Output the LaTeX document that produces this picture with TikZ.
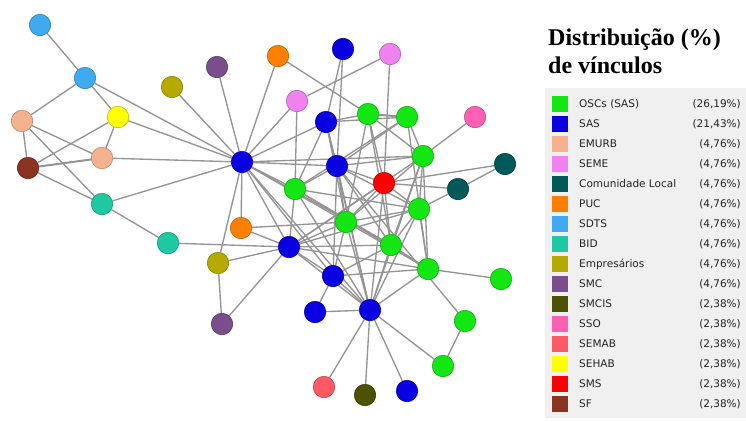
\documentclass[tikz,border=0pt]{standalone}
\usepackage{fontspec}
\setmainfont{Liberation Serif}
\newfontfamily\legfont{DejaVu Sans}
\usetikzlibrary{backgrounds}
\definecolor{cOSC}{RGB}{20,230,20}
\definecolor{cSAS}{RGB}{10,0,225}
\definecolor{cEMURB}{RGB}{245,178,142}
\definecolor{cSEME}{RGB}{240,130,240}
\definecolor{cCOM}{RGB}{0,88,88}
\definecolor{cPUC}{RGB}{255,128,0}
\definecolor{cSDTS}{RGB}{64,170,240}
\definecolor{cBID}{RGB}{30,200,160}
\definecolor{cEMP}{RGB}{182,170,0}
\definecolor{cSMC}{RGB}{122,78,140}
\definecolor{cSMCIS}{RGB}{76,82,0}
\definecolor{cSSO}{RGB}{255,96,180}
\definecolor{cSEMAB}{RGB}{255,90,100}
\definecolor{cSEHAB}{RGB}{255,255,0}
\definecolor{cSMS}{RGB}{255,0,0}
\definecolor{cSF}{RGB}{140,52,36}
\definecolor{legbg}{RGB}{240,240,240}
\definecolor{legtxt}{RGB}{35,35,35}
\tikzset{
  vtx/.style={circle,minimum size=21.5pt,inner sep=0pt,fill=#1,draw=#1!75!black,line width=0.6pt},
  edge/.style={draw=black!42,line width=1.35pt},
  legsq/.style={rectangle,minimum size=16pt,inner sep=0pt,fill=#1},
  leglab/.style={anchor=west,font=\legfont\fontsize{10.5}{12}\selectfont,text=legtxt,inner sep=0pt},
  legpct/.style={anchor=east,font=\legfont\fontsize{10.5}{12}\selectfont,text=legtxt,inner sep=0pt},
  ttl/.style={anchor=base west,font=\fontsize{24}{28}\selectfont\bfseries,inner sep=0pt}
}
\begin{document}
\begin{tikzpicture}[x=1pt,y=-1pt]
\useasboundingbox (0,0) rectangle (746,421);
% ---- nodes ----
\node[vtx=cSDTS] (sd1) at (40,25) {};
\node[vtx=cSDTS] (sd2) at (85,78) {};
\node[vtx=cEMURB] (em1) at (22,121) {};
\node[vtx=cEMURB] (em2) at (102,158) {};
\node[vtx=cSEHAB] (seh) at (118,117) {};
\node[vtx=cSF] (sf) at (28,168) {};
\node[vtx=cBID] (bid1) at (102,204) {};
\node[vtx=cBID] (bid2) at (168,243) {};
\node[vtx=cEMP] (emp1) at (172,87) {};
\node[vtx=cEMP] (emp2) at (218,263) {};
\node[vtx=cSMC] (smc1) at (217,67) {};
\node[vtx=cSMC] (smc2) at (222,324) {};
\node[vtx=cSAS] (A) at (242,162) {};
\node[vtx=cPUC] (puc1) at (278,56) {};
\node[vtx=cPUC] (puc2) at (241,228) {};
\node[vtx=cSAS] (sasT) at (343,49) {};
\node[vtx=cSEME] (seme1) at (390,54) {};
\node[vtx=cSEME] (seme2) at (297,101) {};
\node[vtx=cSAS] (B) at (326,122) {};
\node[vtx=cOSC] (g1) at (368,114) {};
\node[vtx=cOSC] (g2) at (407,117) {};
\node[vtx=cSSO] (sso) at (475,117) {};
\node[vtx=cSAS] (C) at (337,166) {};
\node[vtx=cOSC] (g3) at (423,156) {};
\node[vtx=cCOM] (cl1) at (505,164) {};
\node[vtx=cSMS] (sms) at (384,183) {};
\node[vtx=cCOM] (cl2) at (458,189) {};
\node[vtx=cOSC] (g4) at (295,189) {};
\node[vtx=cOSC] (g6) at (419,209) {};
\node[vtx=cOSC] (g5) at (346,222) {};
\node[vtx=cSAS] (D) at (289,247) {};
\node[vtx=cOSC] (g7) at (391,245) {};
\node[vtx=cOSC] (g8) at (428,269) {};
\node[vtx=cSAS] (E) at (333,276) {};
\node[vtx=cOSC] (g9) at (501,279) {};
\node[vtx=cSAS] (F) at (315,312) {};
\node[vtx=cSAS] (H) at (370,310) {};
\node[vtx=cOSC] (g10) at (465,321) {};
\node[vtx=cOSC] (g11) at (443,366) {};
\node[vtx=cSEMAB] (semab) at (324,387) {};
\node[vtx=cSMCIS] (smcis) at (365,395) {};
\node[vtx=cSAS] (sasB) at (407,391) {};
% ---- edges ----
\begin{pgfonlayer}{background}
\foreach \a/\b in {sd1/sd2, sd2/em1, sd2/seh, sd2/A, em1/sf, em1/em2, em1/bid1, seh/sf, seh/em2, seh/A,
  sf/bid1, em2/A, bid1/A, bid1/bid2, bid2/D, emp1/A, smc1/A, puc1/A, seme2/A, A/B, A/C, A/g3, A/g4, A/g5,
  A/D, A/E, A/H, A/g7, A/puc2, A/emp2, puc2/g5, puc2/D, emp2/D, emp2/smc2, smc2/D,
  puc1/g1, sasT/B, sasT/C, seme1/seme2, seme1/sms, seme2/g4, sso/g3, cl1/cl2, cl1/sms, cl2/sms, cl2/g6,
  B/g1, B/g2, B/C, B/g5, B/g4, B/H,
  g1/g3, g1/g7, g1/sms, g1/g5, g2/g3, g2/g4, g2/C, g2/g8,
  C/g3, C/g4, C/g5, C/sms, C/E, C/H, C/g7, C/g10, C/g6,
  g3/g6, g3/g8, g3/g5, g3/g7, g3/H, g3/D,
  g4/g7, g4/D, g4/g8, g4/H, g4/g6,
  sms/g5, sms/g7, sms/H, sms/D, sms/g6,
  g5/D, g5/g6, g5/H, g5/E, g5/g8,
  g6/g7, g6/H, g6/g8, g6/D,
  D/g7, D/g8, D/E, D/H, g7/H, g7/E, g7/g8, g8/H, g8/E, g8/g9,
  E/F, E/H, F/H, H/semab, H/smcis, H/sasB, H/g11, g10/g11}
  {\draw[edge] (\a) -- (\b);}
\draw[edge,line width=2pt] (sf) -- (em2);
\draw[edge,line width=2pt] (g1) -- (g2);
\end{pgfonlayer}
% ---- legend ----
\node[ttl] (t1) at (548,45) {Distribuição (\%)};
\node[ttl] (t2) at (548,73) {de vínculos};
\node[fill=legbg,inner sep=0pt,minimum width=201pt,minimum height=330pt,anchor=north west] (lbox) at (545,88) {};
\foreach \i/\c/\lab/\p in {0/cOSC/OSCs (SAS)/(26{,}19\%), 1/cSAS/SAS/(21{,}43\%), 2/cEMURB/EMURB/(4{,}76\%),
  3/cSEME/SEME/(4{,}76\%), 4/cCOM/Comunidade Local/(4{,}76\%), 5/cPUC/PUC/(4{,}76\%), 6/cSDTS/SDTS/(4{,}76\%),
  7/cBID/BID/(4{,}76\%), 8/cEMP/Empresários/(4{,}76\%), 9/cSMC/SMC/(4{,}76\%), 10/cSMCIS/SMCIS/(2{,}38\%),
  11/cSSO/SSO/(2{,}38\%), 12/cSEMAB/SEMAB/(2{,}38\%), 13/cSEHAB/SEHAB/(2{,}38\%), 14/cSMS/SMS/(2{,}38\%),
  15/cSF/SF/(2{,}38\%)}
{
  \node[legsq=\c] (sq\i) at (560,104+20*\i) {};
  \node[leglab] (lb\i) at (579,104+20*\i) {\lab};
  \node[legpct] (pc\i) at (741,104+20*\i) {\p};
}
\end{tikzpicture}
\end{document}
